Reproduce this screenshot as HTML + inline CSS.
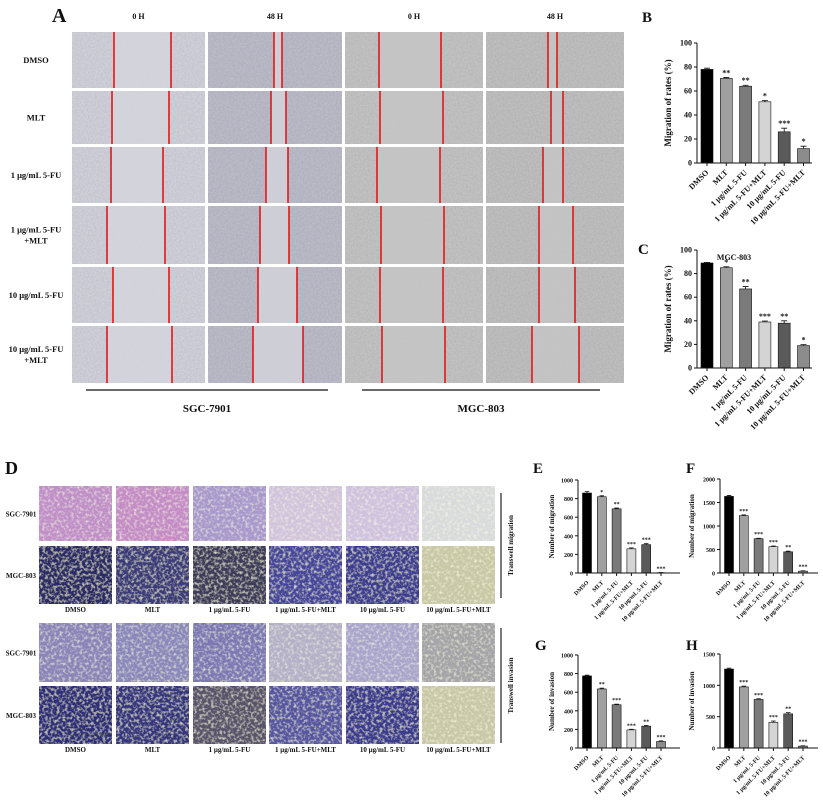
<!DOCTYPE html>
<html><head><meta charset="utf-8"><style>
html,body{margin:0;padding:0;background:#fff}
svg{display:block}
text{font-family:"Liberation Serif",serif;font-weight:bold;fill:#111}
</style></head><body>
<svg id="fig" width="823" height="812" viewBox="0 0 823 812" xmlns="http://www.w3.org/2000/svg">
<defs>
<filter id="tex" x="0" y="0" width="100%" height="100%"><feTurbulence type="fractalNoise" baseFrequency="0.6" numOctaves="2" seed="3"/><feColorMatrix type="matrix" values="0 0 0 0 0  0 0 0 0 0  0 0 0 0 0  0 0 0 0.25 -0.05"/><feComposite in2="SourceGraphic" operator="in"/><feBlend in="SourceGraphic" mode="multiply"/></filter>
<filter id="tex2" x="0" y="0" width="100%" height="100%"><feTurbulence type="fractalNoise" baseFrequency="0.35" numOctaves="2" seed="7"/><feColorMatrix type="matrix" values="0 0 0 0 1  0 0 0 0 1  0 0 0 0 0.8  1.6 0 0 0 -0.75"/><feComposite in2="SourceGraphic" operator="in"/><feBlend in2="SourceGraphic" mode="normal"/></filter>
</defs>
<g id="panelA"></g>
<g id="panelD"></g>
<g id="charts"></g>
</svg>
<script>
// ===== Chart data =====
const categories = ["DMSO","MLT","1 μg/mL 5-FU","1 μg/mL 5-FU+MLT","10 μg/mL 5-FU","10 μg/mL 5-FU+MLT"];
const valuesB = [78, 70.5, 64, 51, 26, 12];
const errB = [1, 0.8, 0.8, 1.2, 3, 2];
const sigB = ["", "**", "**", "*", "***", "*"];
const ticksB = [0, 20, 40, 60, 80, 100];
const valuesC = [89, 85, 67, 39, 38, 19];
const errC = [0.5, 0.8, 2, 0.8, 2, 0.8];
const sigC = ["", "*", "**", "***", "**", "*"];
const ticksC = [0, 20, 40, 60, 80, 100];
const valuesE = [860, 820, 690, 260, 305, 3];
const errE = [15, 10, 8, 10, 10, 2];
const sigE = ["", "*", "**", "***", "***", "***"];
const ticksE = [0, 200, 400, 600, 800, 1000];
const valuesF = [1630, 1220, 730, 560, 450, 40];
const errF = [20, 15, 10, 15, 15, 8];
const sigF = ["", "***", "***", "***", "**", "***"];
const ticksF = [0, 500, 1000, 1500, 2000];
const valuesG = [775, 635, 465, 195, 235, 70];
const errG = [8, 8, 6, 6, 8, 6];
const sigG = ["", "**", "***", "***", "**", "***"];
const ticksG = [0, 200, 400, 600, 800, 1000];
const valuesH = [1260, 975, 775, 410, 545, 30];
const errH = [15, 12, 10, 20, 20, 6];
const sigH = ["", "***", "***", "***", "**", "***"];
const ticksH = [0, 500, 1000, 1500];
const barColors = ["#000000","#a0a0a0","#7a7a7a","#d4d4d4","#5a5a5a","#8c8c8c"];

const NS="http://www.w3.org/2000/svg";
function mk(parent,tag,attrs,txt){const e=document.createElementNS(NS,tag);for(const k in attrs)e.setAttribute(k,attrs[k]);if(txt!==undefined)e.textContent=txt;parent.appendChild(e);return e;}

// ===== Panel A =====
const A=document.getElementById('panelA');
let t;
t=mk(A,'text',{x:52,y:22,'font-size':20},'A');


const colA=[[72,205],[208,342],[345,483],[486,624]];
const rowA=[[32,88],[91,144],[147,203],[206,264],[267,323],[326,383]];
const colHead=["0 H","48 H","0 H","48 H"];
const rowLab=[["DMSO"],["MLT"],["1 μg/mL 5-FU"],["1 μg/mL 5-FU","+MLT"],["10 μg/mL 5-FU"],["10 μg/mL 5-FU","+MLT"]];
const redA=[[[114,171],[274,282],[379,441],[548,557]],[[112,169],[271,286],[380,443],[551,563]],[[111,163],[266,288],[377,440],[543,563]],[[107,165],[260,289],[381,444],[539,573]],[[113,169],[258,297],[380,443],[539,575]],[[107,172],[253,303],[382,445],[532,579]]];
const fillA=["#d2d2dc","#bcbcca","#c4c4c4","#c0c0c0"];
colA.forEach((c,ci)=>{t=mk(A,'text',{x:(c[0]+c[1])/2,y:19,'font-size':8,'text-anchor':'middle'},colHead[ci]);

});
rowA.forEach((r,ri)=>{
  const lab=rowLab[ri];const cy=(r[0]+r[1])/2;
  lab.forEach((s,li)=>{t=mk(A,'text',{x:36,y:cy+3+(li-(lab.length-1)/2)*11,'font-size':8.5,'text-anchor':'middle'},s);
  
  });
  colA.forEach((c,ci)=>{
    const im=mk(A,'rect',{x:c[0],y:r[0],width:c[1]-c[0],height:r[1]-r[0],fill:fillA[ci],filter:'url(#tex)'});
    
    
    const gap=mk(A,'rect',{x:redA[ri][ci][0],y:r[0],width:redA[ri][ci][1]-redA[ri][ci][0],height:r[1]-r[0],fill:ci<2?'#d4d4dc':'#c6c6c6',opacity:0.8});
    
    
    redA[ri][ci].forEach(x=>{const l=mk(A,'line',{x1:x,x2:x,y1:r[0],y2:r[1],stroke:'#e01818','stroke-width':1.6});
    
    });
  });
});
[[86,328,"SGC-7901"],[362,600,"MGC-803"]].forEach(u=>{
  const l=mk(A,'line',{x1:u[0],x2:u[1],y1:390,y2:390,stroke:'#111','stroke-width':1.2});
  
  
  t=mk(A,'text',{x:(u[0]+u[1])/2,y:412,'font-size':11,'text-anchor':'middle'},u[2]);
  
  
});

// ===== Panel D =====
const D=document.getElementById('panelD');
t=mk(D,'text',{x:5,y:474,'font-size':18},'D');


const colD=[[39,112],[116,189],[193,266],[269,342],[346,419],[422,495]];
const rowD=[[486,541],[546,604],[623,682],[686,744]];
const fillD=[
 ["#c08fc8","#c48cc6","#a898cc","#d2c4dc","#cfc2df","#d8dadc"],
 ["#2c2c66","#3a3a7a","#3c3a5a","#44449a","#3c3c90","#c8c8a6"],
 ["#8a84b8","#8a88ba","#7c78b4","#b4b0c8","#a8a4cc","#a4a4a8"],
 ["#2e2e78","#34347e","#58526a","#5454a0","#3a3a8e","#c8c8a8"]];
const rowLabD=["SGC-7901","MGC-803","SGC-7901","MGC-803"];
rowD.forEach((r,ri)=>{
  t=mk(D,'text',{x:21,y:(r[0]+r[1])/2+3,'font-size':7,'text-anchor':'middle'},rowLabD[ri]);
  
  
  colD.forEach((c,ci)=>{
    const im=mk(D,'rect',{x:c[0],y:r[0],width:c[1]-c[0],height:r[1]-r[0],fill:fillD[ri][ci],filter:'url(#tex2)'});
    
    
  });
});
[612,752].forEach(y=>{colD.forEach((c,ci)=>{
  t=mk(D,'text',{x:(c[0]+c[1])/2,y:y,'font-size':7,'text-anchor':'middle'},categories[ci]);
  
  
});});
[[493,598,"Transwell migration"],[628,743,"Transwell invasion"]].forEach(v=>{
  const l=mk(D,'line',{x1:501,x2:501,y1:v[0],y2:v[1],stroke:'#222','stroke-width':1.2});
  
  
  const cy=(v[0]+v[1])/2;
  t=mk(D,'text',{x:511,y:cy,'font-size':7,'text-anchor':'middle',transform:`rotate(-90 511 ${cy})`,dy:2},v[2]);
  
  
});

// ===== Bar charts =====
const C=document.getElementById('charts');
function chart(o){
  const g=mk(C,'g',{});
  
  
  const maxV=o.ticks[o.ticks.length-1];
  const yS=v=>o.y0-(v/maxV)*(o.y0-o.yTop);
  const xS=i=>o.x0+o.pad+i*o.step;
  t=mk(g,'text',{x:o.lx,y:o.ly,'font-size':o.lfs},o.label);
  
  
  if(o.title){t=mk(g,'text',{x:o.tx,y:o.ty,'font-size':8,'text-anchor':'middle'},o.title);
  
  }
  o.values.forEach((v,i)=>{
    const x=xS(i);
    const b=mk(g,'rect',{x:x-o.bw/2,y:yS(v),width:o.bw,height:o.y0-yS(v),fill:barColors[i],stroke:'#111','stroke-width':0.6});
    
    
    const e=mk(g,'path',{d:`M${x} ${yS(v)}V${yS(v+o.err[i])}M${x-o.bw*0.25} ${yS(v+o.err[i])}H${x+o.bw*0.25}`,stroke:'#111','stroke-width':0.8,fill:'none'});
    
    
    if(o.sig[i]){t=mk(g,'text',{x:x,y:yS(v+o.err[i])-2,'font-size':o.sfs,'text-anchor':'middle'},o.sig[i]);
    
    }
    const ty=o.y0+6;
    t=mk(g,'text',{x:x+2,y:ty+4,'font-size':o.cfs,'text-anchor':'end',transform:`rotate(-45 ${x+2} ${ty+4})`},categories[i]);
    
    
  });
  const ax=mk(g,'path',{d:`M${o.x0} ${o.yTop}V${o.y0}H${o.xEnd}`,stroke:'#111','stroke-width':1,fill:'none'});
  
  
  o.ticks.forEach(tv=>{
    const y=yS(tv);
    const tk=mk(g,'line',{x1:o.x0-3,x2:o.x0,y1:y,y2:y,stroke:'#111','stroke-width':1});
    
    
    t=mk(g,'text',{x:o.x0-5,y:y+2.5,'font-size':o.tfs,'text-anchor':'end'},tv);
    
    
  });
  o.values.forEach((v,i)=>{const x=xS(i);const tk=mk(g,'line',{x1:x,x2:x,y1:o.y0,y2:o.y0+3,stroke:'#111','stroke-width':1});
    
    });
  const cy=(o.y0+o.yTop)/2;
  t=mk(g,'text',{x:o.yx,y:cy,'font-size':o.yfs,'text-anchor':'middle',transform:`rotate(-90 ${o.yx} ${cy})`},o.ytitle);
  
  
}
const bigCfg={x0:697,xEnd:812,pad:10,step:19.3,bw:12,lfs:15,sfs:8,cfs:8,tfs:8,yfs:9,yx:671};
chart(Object.assign({},bigCfg,{id:'b',label:'B',lx:642,ly:22,values:valuesB,err:errB,sig:sigB,ticks:ticksB,yTop:43,y0:163,ytitle:'Migration of rates (%)'}));
chart(Object.assign({},bigCfg,{id:'c',label:'C',lx:638,ly:254,title:'MGC-803',tx:734,ty:260,values:valuesC,err:errC,sig:sigC,ticks:ticksC,yTop:250,y0:368,ytitle:'Migration of rates (%)'}));
const smCfg={pad:9,step:14.8,bw:9,lfs:15,sfs:6,cfs:6,tfs:6,yfs:7};
chart(Object.assign({},smCfg,{id:'e',label:'E',lx:533,ly:473,x0:578,xEnd:680,yx:554,values:valuesE,err:errE,sig:sigE,ticks:ticksE,yTop:480,y0:573,ytitle:'Number of migration'}));
chart(Object.assign({},smCfg,{id:'f',label:'F',lx:686,ly:473,x0:720,xEnd:818,yx:694,values:valuesF,err:errF,sig:sigF,ticks:ticksF,yTop:479,y0:573,ytitle:'Number of migration'}));
chart(Object.assign({},smCfg,{id:'g',label:'G',lx:535,ly:650,x0:578,xEnd:680,yx:554,values:valuesG,err:errG,sig:sigG,ticks:ticksG,yTop:655,y0:748,ytitle:'Number of invasion'}));
chart(Object.assign({},smCfg,{id:'h',label:'H',lx:686,ly:650,x0:720,xEnd:818,yx:694,values:valuesH,err:errH,sig:sigH,ticks:ticksH,yTop:654,y0:748,ytitle:'Number of invasion'}));
</script>
</body></html>
